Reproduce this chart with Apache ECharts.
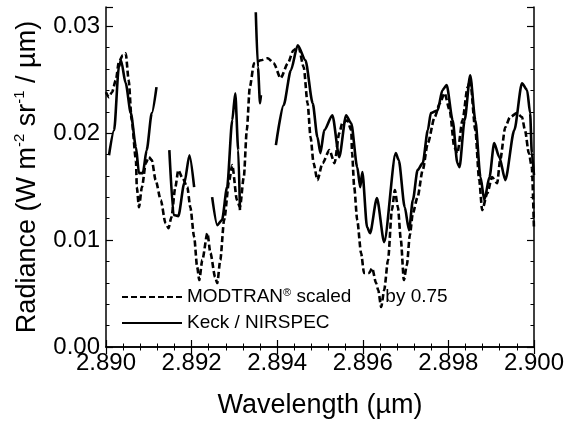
<!DOCTYPE html>
<html>
<head>
<meta charset="utf-8">
<script src="https://cdn.jsdelivr.net/npm/echarts@6/dist/echarts.min.js"></script>
<style>
html,body{margin:0;padding:0;background:#fff;}
#chart{width:567px;height:427px;}
</style>
</head>
<body>
<div id="chart"></div>
<script>
// Keck / NIRSPEC (solid) – null marks gaps between measured segments
const keckWl = [
  2.89007,2.89019,2.89030,2.89035,2.89046,2.89058,2.89070,2.89077,2.89086,2.89095,2.89107,2.89118,
  2.89130,
  2.89148,2.89158,2.89169,2.89183,2.89195,2.89206,
  2.89220,
  2.89248,2.89260,2.89271,2.89283,2.89295,2.89302,2.89309,2.89313,
  2.89330,
  2.89350,2.89355,2.89360,2.89362,
  2.89380,
  2.89397,2.89415,2.89432,2.89448,2.89466,2.89483,2.89494,2.89501,2.89510,2.89529,2.89545,2.89561,
  2.89573,2.89587,2.89594,2.89599,2.89610,2.89617,2.89633,2.89650,2.89677,2.89684,2.89698,2.89708,
  2.89717,2.89728,2.89740,2.89752,2.89759,2.89775,2.89786,2.89796,2.89810,2.89821,2.89826,2.89838,
  2.89851,2.89863,2.89875,2.89884,2.89896,2.89907,2.89919,2.89933,2.89954,2.89972,2.89984,2.89991,
  2.89995,2.90000
];
const keckRad = [
  0.01794,0.02028,0.02617,0.02682,0.02467,0.02187,0.01869,0.01626,0.01626,0.01841,0.02187,0.02430,
  null,
  0.01841,0.01234,0.01224,0.01533,0.01794,0.01495,
  null,
  0.01402,0.01140,0.01187,0.01495,0.02121,0.02374,0.01841,0.01280,
  null,
  0.03131,0.02617,0.02280,0.02355,
  null,
  0.01888,0.02262,0.02589,0.02822,0.02682,0.02280,0.01963,0.01813,0.02028,0.02168,0.01776,0.02168,
  0.02093,0.01682,0.01495,0.01636,0.01121,0.01065,0.01393,0.00981,0.01813,0.01748,0.01308,0.01093,
  0.01374,0.01654,0.01720,0.02028,0.02187,0.02215,0.02402,0.02449,0.02121,0.01720,0.01682,0.02121,
  0.02542,0.02121,0.01589,0.01374,0.01589,0.01907,0.01776,0.01561,0.02028,0.02467,0.02402,0.02187,
  0.01813,0.01607
];
// MODTRAN scaled by 0.75 (dashed)
const modWl = [
  2.89000,2.89007,2.89014,2.89023,2.89030,2.89039,2.89046,2.89053,2.89060,2.89070,2.89072,2.89077,
  2.89084,2.89093,2.89100,2.89107,2.89116,2.89128,2.89139,2.89146,2.89153,2.89162,2.89169,2.89179,
  2.89190,2.89197,2.89206,2.89213,2.89218,2.89225,2.89237,2.89244,2.89255,2.89260,2.89267,2.89276,
  2.89288,2.89295,2.89306,2.89313,2.89322,2.89329,2.89336,2.89346,2.89362,2.89378,2.89392,2.89408,
  2.89425,2.89438,2.89450,2.89462,2.89471,2.89478,2.89485,2.89494,2.89506,2.89522,2.89534,2.89545,
  2.89552,2.89564,2.89573,2.89575,2.89580,2.89587,2.89596,2.89603,2.89615,2.89622,2.89631,2.89636,
  2.89643,2.89650,2.89659,2.89668,2.89675,2.89682,2.89689,2.89696,2.89703,2.89710,2.89717,2.89728,
  2.89740,2.89752,2.89768,2.89780,2.89791,2.89803,2.89814,2.89821,2.89833,2.89845,2.89851,2.89863,
  2.89872,2.89879,2.89891,2.89902,2.89914,2.89921,2.89933,2.89944,2.89960,2.89972,2.89979,2.89988,
  2.89995,2.90000
];
const modRad = [
  0.02383,0.02336,0.02383,0.02495,0.02664,0.02729,0.02748,0.02495,0.02121,0.01748,0.01495,0.01308,
  0.01495,0.01720,0.01776,0.01748,0.01561,0.01374,0.01159,0.01112,0.01215,0.01495,0.01654,0.01579,
  0.01495,0.01308,0.01028,0.00748,0.00626,0.00813,0.01065,0.00879,0.00654,0.00598,0.00813,0.01187,
  0.01561,0.01701,0.01374,0.01308,0.01589,0.02028,0.02430,0.02654,0.02682,0.02701,0.02654,0.02514,
  0.02654,0.02776,0.02804,0.02617,0.02280,0.01963,0.01720,0.01561,0.01720,0.01841,0.01720,0.02000,
  0.02093,0.02121,0.02028,0.01813,0.01495,0.01187,0.00879,0.00692,0.00692,0.00738,0.00598,0.00533,
  0.00374,0.00533,0.00813,0.01280,0.01467,0.01308,0.01000,0.00626,0.00766,0.01047,0.01252,0.01402,
  0.01654,0.01907,0.02150,0.02280,0.02374,0.02215,0.01869,0.01813,0.02121,0.02430,0.02495,0.02028,
  0.01561,0.01280,0.01439,0.01589,0.01533,0.01748,0.02056,0.02150,0.02187,0.02150,0.02028,0.01813,
  0.01682,0.01100
];
const xTicks = {min: 2.890, max: 2.900, interval: 0.002};
const yTicks = {min: 0, max: 0.0318, interval: 0.01};

const FONT = '"Liberation Sans", Arial, Helvetica, sans-serif';
const toPairs = (xs, ys) => xs.map((x, i) => [x, ys[i] === null ? '-' : ys[i]]);

const chart = echarts.init(document.getElementById('chart'), null, {renderer: 'canvas'});
const axisLine = {show: true, lineStyle: {color: '#000', width: 1.5}};
const tick = {show: true, inside: true, length: 7, lineStyle: {color: '#000', width: 1.2}};
const minor = {show: true, splitNumber: 5, length: 3.5, lineStyle: {color: '#000', width: 1}};
const yFmt = v => Math.abs(v * 100 - Math.round(v * 100)) < 1e-6 ? v.toFixed(2) : '';

chart.setOption({
  animation: false,
  backgroundColor: '#fff',
  grid: {left: 106, right: 29, top: 7, bottom: 80},
  legend: {
    orient: 'vertical', left: 121, top: 287, padding: 0,
    itemWidth: 60, itemHeight: 14, itemGap: 6,
    itemStyle: {opacity: 0},
    data: ['MODTRAN', 'Keck'],
    formatter: n => n === 'MODTRAN' ? 'MODTRAN{r|®} scaled{g|}by 0.75' : 'Keck / NIRSPEC',
    textStyle: {
      fontFamily: FONT, fontSize: 19, color: '#000', lineHeight: 20,
      rich: {
        r: {fontFamily: FONT, fontSize: 11, verticalAlign: 'top', lineHeight: 20, color: '#000'},
        g: {width: 34}
      }
    }
  },
  xAxis: [{
    type: 'value', min: xTicks.min, max: xTicks.max, interval: xTicks.interval,
    name: 'Wavelength (µm)', nameLocation: 'middle', nameGap: 45,
    nameTextStyle: {fontFamily: FONT, fontSize: 27, color: '#000'},
    axisLine: axisLine, axisTick: tick, minorTick: minor, splitLine: {show: false},
    axisLabel: {fontFamily: FONT, fontSize: 24, color: '#000', margin: 4,
      formatter: v => v.toFixed(3)}
  }, {
    type: 'value', position: 'top', min: xTicks.min, max: xTicks.max, interval: xTicks.interval,
    axisLine: axisLine, axisTick: tick, minorTick: minor, splitLine: {show: false},
    axisLabel: {show: false}
  }],
  yAxis: [{
    type: 'value', min: yTicks.min, max: yTicks.max, interval: yTicks.interval,
    name: 'Radiance (W m{s|-2} sr{s|-1} / µm)', nameLocation: 'middle', nameGap: 58, nameRotate: 90,
    nameTextStyle: {fontFamily: FONT, fontSize: 27, color: '#000', lineHeight: 30,
      rich: {s: {fontFamily: FONT, fontSize: 15, verticalAlign: 'top', lineHeight: 30, color: '#000'}}},
    axisLine: axisLine, axisTick: tick, minorTick: minor, splitLine: {show: false},
    axisLabel: {fontFamily: FONT, fontSize: 24, color: '#000', margin: 6, formatter: yFmt}
  }, {
    type: 'value', position: 'right', min: yTicks.min, max: yTicks.max, interval: yTicks.interval,
    axisLine: axisLine, axisTick: tick, minorTick: minor, splitLine: {show: false},
    axisLabel: {show: false}
  }],
  series: [{
    name: 'MODTRAN', type: 'line', showSymbol: false, symbol: 'none',
    smooth: 0.25, smoothMonotone: 'x',
    data: toPairs(modWl, modRad),
    lineStyle: {color: '#000', width: 2.6, type: [6, 3]}, itemStyle: {color: '#000'}
  }, {
    name: 'Keck', type: 'line', showSymbol: false, symbol: 'none',
    smooth: 0.25, smoothMonotone: 'x', connectNulls: false,
    data: toPairs(keckWl, keckRad),
    lineStyle: {color: '#000', width: 2.6}, itemStyle: {color: '#000'}
  }]
});
</script>
</body>
</html>
